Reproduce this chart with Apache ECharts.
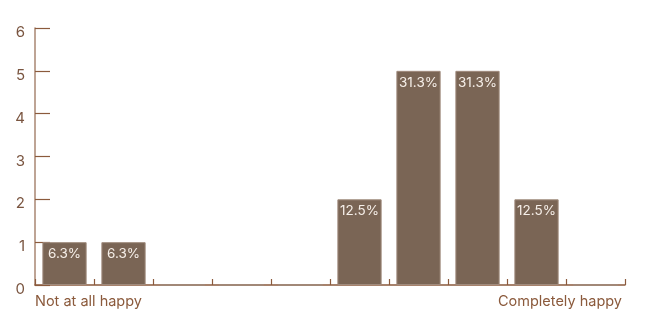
<!DOCTYPE html>
<html><head><meta charset="utf-8">
<script src="https://cdn.jsdelivr.net/npm/echarts@6/dist/echarts.min.js"></script>
<style>html,body{margin:0;padding:0;background:#fff}#c{width:650px;height:325px}</style>
</head><body><div id="c"></div>
<script>
const categories = ['1','2','3','4','5','6','7','8','9','10'];
const counts = [1, 1, 0, 0, 0, 2, 5, 5, 2, 0];
const yTicks = [0, 1, 2, 3, 4, 5, 6];
const endLabels = ['Not at all happy', 'Completely happy'];
const total = counts.reduce((a, b) => a + b, 0);

const chart = echarts.init(document.getElementById('c'));
chart.setOption({
  animation: false,
  grid: { left: 35, right: 25, top: 28, bottom: 40 },
  xAxis: [{
    type: 'category', data: categories,
    axisLine: { show: true, lineStyle: { color: '#8b5a3c', width: 1.5 } },
    axisTick: { show: true, interval: 0, inside: true, length: 6, lineStyle: { color: '#8b5a3c', width: 1.2 } },
    axisLabel: { show: false }
  }, {
    type: 'value', min: 0, max: 10, interval: 10, position: 'bottom',
    axisLine: { show: false }, axisTick: { show: false }, splitLine: { show: false },
    axisLabel: {
      margin: 9, fontSize: 14.5, color: '#8b5a3c', fontFamily: 'Inter',
      alignMinLabel: 'left', alignMaxLabel: 'right',
      formatter: v => v === 0 ? endLabels[0] : (v === 10 ? '{r|' + endLabels[1] + '}' : ''),
      rich: { r: { fontSize: 14.5, color: '#8b5a3c', fontFamily: 'Inter', padding: [0, 3, 0, 0] } }
    }
  }],
  yAxis: {
    type: 'value', min: yTicks[0], max: yTicks[yTicks.length - 1], interval: 1,
    axisLine: { show: true, lineStyle: { color: '#a88672', width: 1.5 } },
    axisTick: { show: true, inside: true, length: 15, lineStyle: { color: '#8b5a3c', width: 1.2 } },
    splitLine: { show: false },
    axisLabel: { margin: 10, fontSize: 15, color: '#7a5540', fontFamily: 'Inter', verticalAlign: 'top', lineHeight: 9 }
  },
  series: [{
    type: 'bar', xAxisIndex: 0, data: counts, barCategoryGap: '25%',
    itemStyle: { color: '#7a6555', borderColor: '#a08b7d', borderWidth: 1 },
    label: {
      show: true, position: 'insideTop', distance: 5,
      color: '#f6efe9', fontSize: 13.5, fontFamily: 'Inter',
      formatter: p => p.value > 0 ? (p.value / total * 100).toFixed(1) + '%' : ''
    }
  }]
});
</script></body></html>
